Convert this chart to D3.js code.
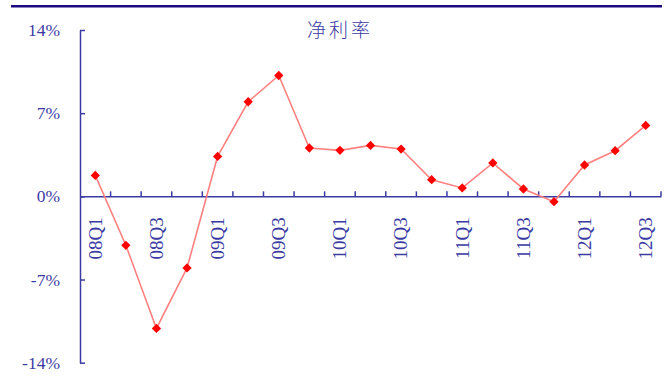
<!DOCTYPE html>
<html>
<head>
<meta charset="utf-8">
<script src="https://cdn.jsdelivr.net/npm/d3@7"></script>
<style>
	body { margin: 0; background: #fff; }
	svg { display: block; }
</style>
</head>
<body>
<div id="chart"></div>
<script>
// Quarters and net margin values (%)
var quarters = ['08Q1','08Q2','08Q3','08Q4','09Q1','09Q2','09Q3','09Q4',
	'10Q1','10Q2','10Q3','10Q4','11Q1','11Q2','11Q3','11Q4','12Q1','12Q2','12Q3'];
var netMargin = [1.76, -4.12, -11.12, -6.02, 3.36, 7.96, 10.17, 4.07,
	3.87, 4.29, 3.98, 1.40, 0.71, 2.81, 0.62, -0.45, 2.64, 3.84, 5.97];
var yTicks = [-14, -7, 0, 7, 14];
var title = '净利率';

var fullWidth = 667;
var fullHeight = 383;
var axisColor = '#3b3ba3';

var svg = d3.select('#chart')
	.append('svg')
	.attr('width', fullWidth)
	.attr('height', fullHeight);

// Top rule
svg.append('rect')
	.attr('x', 11)
	.attr('y', 5)
	.attr('width', 651)
	.attr('height', 2.5)
	.attr('fill', '#1a0a80');

// Scales
var xScale = d3.scaleBand()
	.domain(quarters)
	.range([80, 661]);

var yScale = d3.scaleLinear()
	.domain([-14, 14])
	.range([362.7, 30]);

// Title
svg.append('text')
	.attr('x', 340)
	.attr('y', 37)
	.attr('text-anchor', 'middle')
	.attr('font-family', '"Noto Sans CJK SC", sans-serif')
	.attr('font-size', 19)
	.attr('font-weight', 300)
	.attr('letter-spacing', 3)
	.attr('fill', axisColor)
	.text(title);

// Y axis
var yAxis = svg.append('g')
	.attr('transform', 'translate(80,0)')
	.call(d3.axisLeft(yScale)
		.tickValues(yTicks)
		.tickSizeInner(-5)
		.tickSizeOuter(0)
		.tickPadding(20)
		.tickFormat(function(d) { return d + '%'; }));

yAxis.select('.domain').attr('stroke', axisColor).attr('stroke-width', 1.5);
yAxis.selectAll('.tick line').attr('stroke', axisColor).attr('stroke-width', 1.5);
yAxis.selectAll('.tick text')
	.attr('fill', axisColor)
	.attr('font-family', '"Liberation Serif", serif')
	.attr('font-size', 17.5);

// X axis on the zero line
var xAxis = svg.append('g')
	.attr('transform', 'translate(0,' + yScale(0) + ')')
	.call(d3.axisBottom(xScale)
		.tickSize(0)
		.tickPadding(0)
		.tickFormat(function(d, i) { return i % 2 === 0 ? d : ''; }));

xAxis.select('.domain').attr('stroke', axisColor).attr('stroke-width', 1.5);
xAxis.selectAll('.tick text')
	.attr('fill', axisColor)
	.attr('font-family', '"Liberation Serif", serif')
	.attr('font-size', 19)
	.attr('text-anchor', 'end')
	.attr('transform', 'rotate(-90)')
	.attr('x', -21)
	.attr('y', 0)
	.attr('dy', '0.33em');

// Category boundary ticks (pointing up)
xAxis.selectAll('.boundary')
	.data(quarters)
	.enter()
	.append('line')
	.attr('class', 'boundary')
	.attr('x1', function(d) { return xScale(d) + xScale.bandwidth(); })
	.attr('x2', function(d) { return xScale(d) + xScale.bandwidth(); })
	.attr('y1', 0)
	.attr('y2', -5)
	.attr('stroke', axisColor)
	.attr('stroke-width', 1.5);

// Line
var line = d3.line()
	.x(function(d, i) { return xScale(quarters[i]) + xScale.bandwidth() / 2; })
	.y(function(d) { return yScale(d); });

svg.append('path')
	.datum(netMargin)
	.attr('d', line)
	.attr('fill', 'none')
	.attr('stroke', '#ff8080')
	.attr('stroke-width', 1.6);

// Diamond markers
svg.selectAll('.marker')
	.data(netMargin)
	.enter()
	.append('path')
	.attr('class', 'marker')
	.attr('d', d3.symbol().type(d3.symbolDiamond2).size(55))
	.attr('transform', function(d, i) {
		return 'translate(' + (xScale(quarters[i]) + xScale.bandwidth() / 2) + ',' + yScale(d) + ')';
	})
	.attr('fill', '#ff0000');
</script>
</body>
</html>
